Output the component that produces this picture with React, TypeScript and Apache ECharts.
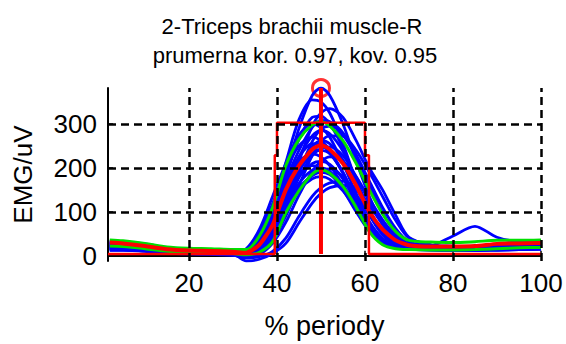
import React, { useEffect, useRef } from "react";
import * as echarts from "echarts";

// x positions (% of period) shared by all curves
const X = [2, 5, 10, 15, 20, 25, 30, 33, 36, 39, 42, 45, 48, 50, 52, 55, 58, 61, 64, 67, 70, 75, 80, 85, 90, 95, 100];

// individual cycles (blue)
const cycA = [24, 23, 18, 13, 11, 10, 9, 12, 40, 100, 190, 290, 365, 382, 365, 300, 215, 135, 72, 35, 20, 18, 18, 20, 22, 22, 23];
const cycB = [30, 29, 24, 16, 13, 12, 11, 15, 50, 115, 212, 310, 355, 350, 325, 255, 170, 95, 48, 26, 19, 17, 17, 19, 21, 22, 24];
const cycC = [18, 18, 14, 9, 7, 6, 4, 5, 18, 55, 125, 215, 295, 325, 335, 315, 262, 200, 150, 92, 42, 25, 22, 20, 19, 20, 21];
const cycD = [32, 31, 25, 17, 13, 12, 10, 10, 38, 95, 180, 265, 315, 318, 300, 245, 170, 100, 52, 28, 19, 17, 18, 20, 22, 24, 25];
const cycE = [22, 21, 17, 12, 10, 9, 8, 14, 45, 100, 172, 240, 292, 308, 305, 280, 230, 170, 110, 62, 32, 22, 20, 20, 21, 22, 23];
const cycF = [27, 26, 21, 14, 11, 10, 10, 16, 60, 135, 210, 275, 300, 292, 270, 210, 140, 78, 40, 23, 18, 16, 15, 17, 19, 21, 23];
const cycG = [16, 16, 13, 8, 6, 5, 3, 4, 14, 48, 110, 190, 260, 288, 295, 275, 225, 160, 98, 52, 26, 18, 15, 15, 16, 17, 18];
const cycH = [25, 24, 19, 14, 12, 11, 9, 9, 30, 80, 155, 225, 273, 285, 278, 238, 172, 105, 55, 29, 20, 18, 18, 19, 20, 21, 23];
const cycI = [14, 14, 11, 7, 5, 4, 2, 2, 8, 35, 90, 160, 228, 260, 273, 272, 240, 190, 135, 80, 40, 24, 18, 16, 16, 17, 18];
const cycJ = [33, 32, 27, 19, 15, 14, 13, 14, 55, 118, 195, 250, 270, 262, 240, 188, 125, 70, 36, 22, 18, 18, 19, 21, 23, 25, 28];
const cycK = [20, 20, 16, 11, 9, 8, 6, 7, 25, 68, 135, 200, 248, 262, 255, 218, 158, 95, 50, 27, 18, 16, 16, 17, 18, 20, 21];
const cycL = [28, 27, 22, 15, 12, 11, 10, 11, 35, 90, 165, 225, 255, 252, 235, 188, 128, 72, 38, 22, 17, 16, 17, 19, 21, 23, 25];
const cycM = [17, 17, 13, 9, 7, 6, 4, 3, 12, 48, 110, 178, 228, 245, 248, 228, 180, 122, 72, 38, 21, 16, 14, 14, 15, 16, 17];
const cycN = [23, 22, 18, 13, 11, 10, 9, 8, 20, 60, 128, 192, 232, 240, 232, 190, 125, 66, 32, 20, 17, 16, 17, 18, 19, 20, 21];
const cycO = [30, 29, 23, 16, 13, 12, 11, 14, 48, 105, 168, 215, 232, 225, 205, 160, 105, 58, 30, 19, 17, 17, 18, 20, 22, 24, 26];
const cycP = [12, 12, 10, 6, 4, 3, 1, -4, 3, 28, 76, 138, 192, 215, 225, 215, 180, 130, 82, 45, 24, 16, 13, 12, 13, 14, 15];
const cycQ = [21, 21, 17, 12, 10, 9, 8, 8, 25, 65, 125, 180, 210, 215, 208, 175, 122, 70, 36, 21, 17, 15, 16, 17, 18, 19, 20];
const cycR = [26, 25, 20, 14, 11, 10, 9, 10, 30, 75, 138, 185, 205, 200, 188, 150, 100, 56, 29, 19, 16, 16, 17, 18, 20, 21, 23];
const cycS = [15, 15, 12, 8, 6, 5, 4, 3, 10, 42, 95, 150, 185, 196, 198, 180, 140, 92, 52, 27, 16, 13, 12, 12, 13, 14, 15];
const cycT = [19, 19, 15, 11, 8, 7, 6, 5, 18, 52, 105, 155, 182, 190, 185, 160, 115, 68, 35, 20, 15, 13, 13, 14, 15, 16, 17];
const cycU = [24, 23, 18, 13, 10, 9, 8, 7, 22, 58, 108, 150, 175, 180, 174, 148, 105, 60, 30, 18, 15, 14, 15, 16, 17, 19, 20];
const cycV = [13, 13, 11, 7, 5, 4, 2, -5, -2, 10, 40, 90, 135, 155, 166, 170, 152, 115, 72, 38, 20, 14, 12, 12, 13, 14, 15];
const cycW = [16, 16, 13, 9, 7, 6, 4, -12, -8, 5, 28, 75, 120, 142, 155, 160, 148, 115, 75, 42, 22, 15, 14, 14, 15, 16, 17];
const cycX = [20, 20, 16, 11, 9, 8, 7, 6, 20, 58, 115, 165, 195, 200, 192, 160, 110, 62, 32, 20, 18, 22, 45, 67, 42, 33, 33];

const cycles = [cycA, cycB, cycC, cycD, cycE, cycF, cycG, cycH, cycI, cycJ, cycK, cycL, cycM, cycN, cycO, cycP, cycQ, cycR, cycS, cycT, cycU, cycV, cycW, cycX];

// mean and mean +/- SD
const meanCurve = [30, 28, 22, 15, 12, 11, 9, 7, 25, 70, 150, 205, 242, 252, 242, 210, 160, 100, 60, 35, 24, 21, 21, 22, 27, 28, 29];
const sdUpper = [36, 34, 28, 20, 17, 16, 14, 14, 45, 110, 205, 265, 298, 305, 295, 262, 210, 150, 95, 55, 35, 31, 30, 32, 35, 35, 36];
const sdLower = [22, 21, 16, 10, 8, 7, 5, 2, 8, 32, 98, 148, 186, 196, 188, 158, 110, 55, 25, 16, 14, 13, 13, 14, 16, 18, 19];

// activation window (red step)
const windowX = [1.6, 39.5, 39.5, 40, 40, 60, 60, 60.9, 60.9, 100];
const windowY = [4, 4, 229, 229, 303, 303, 229, 229, 4, 4];

// peak marker
const peakX = 50;
const peakY = 382;

const xTicks = [20, 40, 60, 80, 100];
const yTicks = [0, 100, 200, 300];
const xMin = 1.6;
const xMax = 100;
const yMin = -12;
const yMax = 382;

const FONT = "'Liberation Sans', Arial, Helvetica, sans-serif";

const toPts = (vals: number[]) => X.map((x, i) => [x, vals[i]]);

export default function App() {
  const ref = useRef<HTMLDivElement>(null);
  useEffect(() => {
    if (!ref.current) return;
    const chart = echarts.init(ref.current, undefined, { renderer: "svg" });
    const series: any[] = [];
    series.push({
      type: "line",
      data: [[xMin, 0], [xMax, 0]],
      showSymbol: false,
      silent: true,
      lineStyle: { color: "#000", width: 1.5 },
      markLine: {
        silent: true,
        symbol: ["none", "none"],
        label: { show: false },
        lineStyle: { color: "#000", width: 2.5, type: [8, 5] },
        data: [
          ...xTicks.map((v) => ({ xAxis: v })),
          ...yTicks.filter((v) => v > 0).map((v) => ({ yAxis: v })),
        ],
      },
    });
    cycles.forEach((c) => {
      series.push({
        type: "line",
        data: toPts(c),
        showSymbol: false,
        smooth: 0.3,
        silent: true,
        lineStyle: { color: "#0000ff", width: 2.8 },
      });
    });
    [sdUpper, sdLower].forEach((c) => {
      series.push({
        type: "line",
        data: toPts(c),
        showSymbol: false,
        smooth: 0.3,
        silent: true,
        lineStyle: { color: "#00e000", width: 3 },
      });
    });
    series.push({
      type: "line",
      data: toPts(meanCurve),
      showSymbol: false,
      smooth: 0.2,
      silent: true,
      lineStyle: { color: "#ff0000", width: 4 },
    });
    series.push({
      type: "line",
      data: windowX.map((x, i) => [x, windowY[i]]),
      showSymbol: false,
      silent: true,
      lineStyle: { color: "#ff0000", width: 2.5 },
    });
    series.push({
      type: "line",
      data: [[peakX, 4], [peakX, peakY]],
      showSymbol: false,
      silent: true,
      lineStyle: { color: "#ff0000", width: 4 },
    });
    series.push({
      type: "scatter",
      data: [[peakX, peakY]],
      symbol: "circle",
      symbolSize: 17,
      clip: false,
      silent: true,
      itemStyle: { color: "rgba(0,0,0,0)", borderColor: "#ff0000", borderWidth: 3 },
    });

    chart.setOption({
      animation: false,
      backgroundColor: "#fff",
      textStyle: { fontFamily: FONT },
      grid: { left: 108, right: 25, top: 88, bottom: 81 },
      xAxis: {
        type: "value",
        min: xMin,
        max: xMax,
        name: "% periody",
        nameLocation: "middle",
        nameGap: 51,
        nameTextStyle: { fontSize: 27, color: "#000", fontFamily: FONT },
        axisLine: { show: true, lineStyle: { color: "#000", width: 2 } },
        axisTick: { show: true, inside: true, length: 5, customValues: xTicks, lineStyle: { color: "#000", width: 1.5 } },
        axisLabel: { customValues: xTicks, fontSize: 26, color: "#000", margin: 9, fontFamily: FONT },
        splitLine: { show: false },
      },
      yAxis: {
        type: "value",
        min: yMin,
        max: yMax,
        name: "EMG/uV",
        nameLocation: "middle",
        nameRotate: 90,
        nameGap: 72,
        nameTextStyle: { fontSize: 26, color: "#000", fontFamily: FONT },
        axisLine: { show: true, lineStyle: { color: "#000", width: 2 } },
        axisTick: { show: true, inside: true, length: 5, customValues: yTicks, lineStyle: { color: "#000", width: 1.5 } },
        axisLabel: { customValues: yTicks, fontSize: 26, color: "#000", margin: 11, fontFamily: FONT },
        splitLine: { show: false },
      },
      graphic: [
        {
          type: "text",
          x: 292,
          y: 26,
          silent: true,
          style: { text: "2-Triceps brachii muscle-R", fontSize: 22, fontFamily: FONT, fill: "#000", align: "center", verticalAlign: "middle" },
        },
        {
          type: "text",
          x: 295,
          y: 55,
          silent: true,
          style: { text: "prumerna kor. 0.97, kov. 0.95", fontSize: 22, fontFamily: FONT, fill: "#000", align: "center", verticalAlign: "middle" },
        },
      ],
      series,
    });
    return () => chart.dispose();
  }, []);
  return <div ref={ref} style={{ width: 566, height: 344, position: "absolute", left: 0, top: 0 }} />;
}
